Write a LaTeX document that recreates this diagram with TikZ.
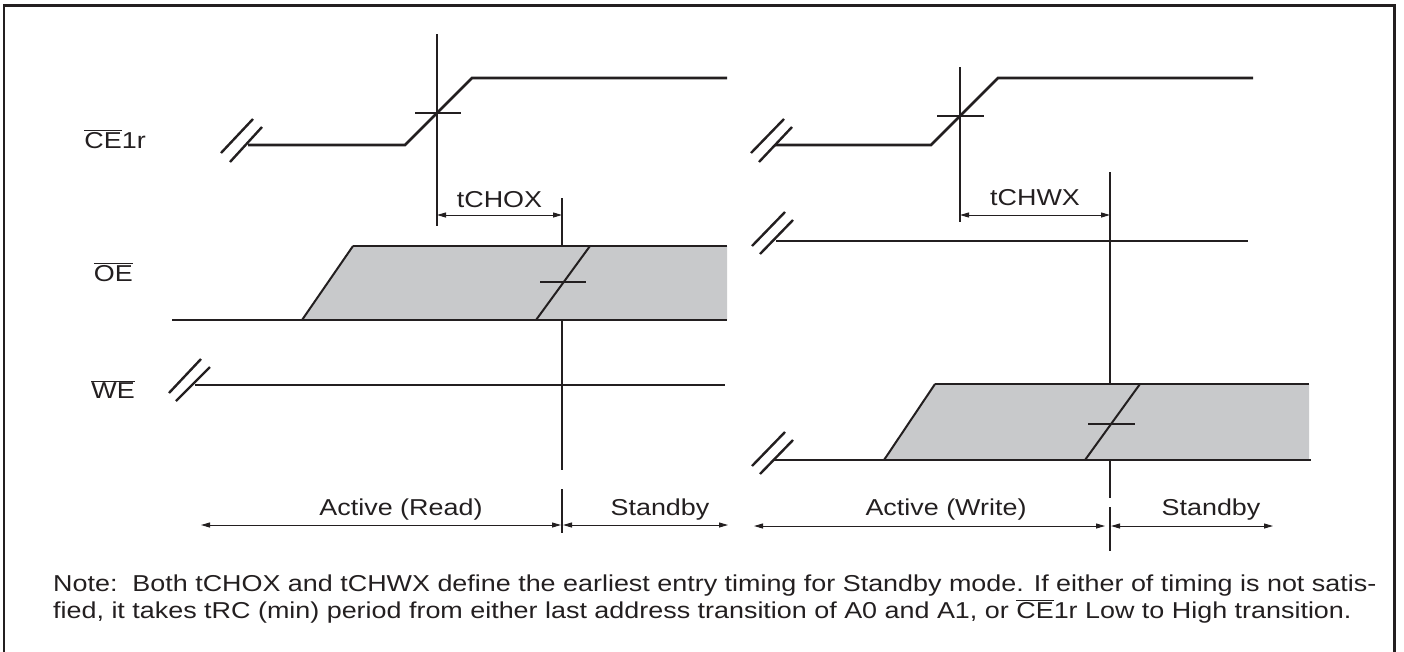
\documentclass[tikz,border=0pt]{standalone}
\usepackage{fontspec}
\setmainfont[FakeStretch=1.17]{Liberation Sans}
\usetikzlibrary{arrows.meta}
\newcommand\ovl[1]{$\overline{\hbox{#1}}$}
\definecolor{graybg}{RGB}{200,201,203}
\definecolor{ink}{RGB}{35,31,32}
\tikzset{
  sig/.style={draw=ink,line width=2.6pt},
  thin/.style={draw=ink,line width=1.4pt},
  ramp/.style={draw=ink,line width=2pt},
  brk/.style={draw=ink,line width=2.4pt},
  dim/.style={draw=ink,line width=1pt,{Triangle[length=9pt,width=5pt]}-{Triangle[length=9pt,width=5pt]}},
  lbl/.style={font=\fontsize{23}{27}\selectfont,text=ink,inner sep=0pt},
}
\begin{document}
\begin{tikzpicture}[x=1pt,y=-1pt]
\useasboundingbox (0,0) rectangle (1404,651);
% frame
\draw[ink,line width=2.6pt] (4,660) -- (4,5.5) -- (1394.5,5.5) -- (1394.5,660);

% ---------- labels ----------
\node[lbl,anchor=base east] (lce) at (146,148) {\ovl{CE}1r};
\node[lbl,anchor=base east] (loe) at (133,281) {\ovl{OE}};
\node[lbl,anchor=base east] (lwe) at (135,398) {\ovl{WE}};

% ---------- left panel ----------
% CE1r
\coordinate (a0) at (248,145); \coordinate (a1) at (405,145);
\coordinate (a2) at (472,78);  \coordinate (a3) at (727,78);
\draw[brk] (221,153) -- (253,119);
\draw[brk] (230,162) -- (262,127);
\draw[sig,line join=miter] (a0) -- (a1) -- (a2) -- (a3);
\coordinate (v1t) at (437,34); \coordinate (v1b) at (437,226);
\draw[thin] (v1t) -- (v1b);
\draw[thin] (415,113) -- (461,113);
% tCHOX
\coordinate (v2t) at (562,198); \coordinate (v2b) at (562,470);
\draw[thin] (v2t) -- (v2b);
\coordinate (d1a) at (437,215); \coordinate (d1b) at (562,215);
\draw[dim] (d1a) -- (d1b) node[lbl,midway,anchor=base,yshift=8pt] (tchox) {tCHOX};
% OE
\fill[graybg] (302,320) -- (353,246) -- (727,246) -- (727,320) -- cycle;
\draw[sig] (172,320) -- (302,320);
\draw[thin] (295,320) -- (352,320);
\draw[draw=ink,line width=1.2pt] (302,320) -- (727,320);
\draw[sig] (353,246) -- (727,246);
\draw[ramp] (302,320) -- (353,246);
\draw[ramp] (536,320) -- (590,246);
\draw[thin] (540,282) -- (586,282);
% WE
\draw[brk] (169,393) -- (201,359);
\draw[brk] (176,401) -- (210,367);
\draw[sig] (195,385) -- (725,385);
% bottom
\coordinate (r0) at (201,525); \coordinate (r1) at (561,525);
\coordinate (r2) at (563,525); \coordinate (r3) at (728,525);
\draw[dim] (r0) -- (r1);
\draw[dim] (r2) -- (r3);
\draw[thin] (562,489) -- (562,533);
\node[lbl,anchor=base] (tact1) at (401,515) {Active (Read)};
\node[lbl,anchor=base] (tsb1) at (660,515) {Standby};

% ---------- right panel ----------
% CE1r
\coordinate (b0) at (775,145); \coordinate (b1) at (931,145);
\coordinate (b2) at (998,78);  \coordinate (b3) at (1253,78);
\draw[brk] (751,153) -- (784,119);
\draw[brk] (759,162) -- (792,127);
\draw[sig,line join=miter] (b0) -- (b1) -- (b2) -- (b3);
\draw[thin] (960,67) -- (960,222);
\draw[thin] (937,116) -- (984,116);
% tCHWX
\draw[thin] (1110,172) -- (1110,498);
\coordinate (d2a) at (960,215); \coordinate (d2b) at (1110,215);
\draw[dim] (d2a) -- (d2b) node[lbl,midway,anchor=base,yshift=10pt] (tchwx) {tCHWX};
% OE
\draw[brk] (752,246) -- (785,212);
\draw[brk] (760,254) -- (793,220);
\draw[sig] (776,241) -- (1248,241);
% WE
\fill[graybg] (884,460) -- (935,384) -- (1309,384) -- (1309,460) -- cycle;
\draw[brk] (752,466) -- (785,432);
\draw[brk] (760,474) -- (793,440);
\draw[sig] (773,460) -- (1311,460);
\draw[sig] (935,384) -- (1309,384);
\draw[ramp] (884,460) -- (935,384);
\draw[ramp] (1085,460) -- (1140,384);
\draw[thin] (1088,424) -- (1135,424);
% bottom
\draw[thin] (1110,507) -- (1110,551);
\coordinate (w0) at (754,526); \coordinate (w1) at (1105,526);
\coordinate (w2) at (1111,526); \coordinate (w3) at (1273,526);
\draw[dim] (w0) -- (w1);
\draw[dim] (w2) -- (w3);
\node[lbl,anchor=base] (tact2) at (946,515) {Active (Write)};
\node[lbl,anchor=base] (tsb2) at (1211,515) {Standby};

% ---------- note ----------
\node[lbl,anchor=base west] (n1) at (53,591) {Note:\ \ Both tCHOX and tCHWX define the earliest entry timing for Standby mode. If either of timing is not satis-};
\node[lbl,anchor=base west] (n2) at (53,618) {fied, it takes tRC (min) period from either last address transition of A0 and A1, or \ovl{CE}1r Low to High transition.};
\end{tikzpicture}
\end{document}
